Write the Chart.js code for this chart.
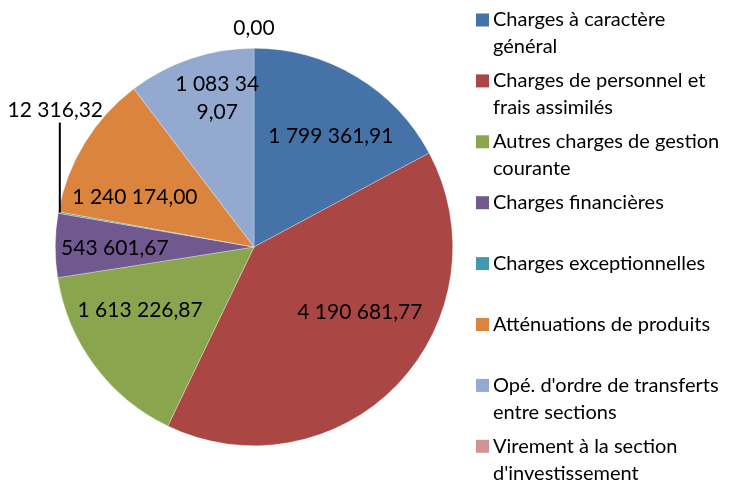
<!DOCTYPE html>
<html>
<head>
<meta charset="utf-8">
<script src="https://cdn.jsdelivr.net/npm/chart.js@4"></script>
<style>
  html, body { margin: 0; padding: 0; background: #fff; }
  #wrap { position: relative; width: 731px; height: 482px; }
</style>
</head>
<body>
<div id="wrap"><canvas id="pie" width="731" height="482"></canvas></div>
<script>
// Chart data
const categories = [
    "Charges à caractère général",
    "Charges de personnel et frais assimilés",
    "Autres charges de gestion courante",
    "Charges financières",
    "Charges exceptionnelles",
    "Atténuations de produits",
    "Opé. d'ordre de transferts entre sections",
    "Virement à la section d'investissement"
];
const amounts = [1799361.91, 4190681.77, 1613226.87, 543601.67, 12316.32, 1240174.00, 1083349.07, 0.00];
const colors = ['#4572A7', '#AA4643', '#89A54E', '#71588F', '#4198AF', '#DB843D', '#93A9CF', '#D19392'];

const LABEL_FONT = '21px Lato';
const LEGEND_FONT = '20px Lato';

// French number format: "1 799 361,91"
function fmt(v) {
    const parts = v.toFixed(2).split('.');
    const intPart = parts[0].replace(/\B(?=(\d{3})+(?!\d))/g, ' ');
    return intPart + ',' + parts[1];
}

// where each value label sits: angle shift (deg) from slice middle, radius as share of the pie radius
const labelPlacement = [
    { dA: 3.8, r: 0.68 },
    { dA: -12.2, r: 0.625 },
    { dA: 7.7, r: 0.655 },
    { dA: -0.8, r: 0.70 },
    { leader: true },
    { dA: -8.7, r: 0.65 },
    { dA: 4.7, r: 0.77, maxWidth: 86 },
    { dA: 0, r: 1.10 }
];

function wrapChars(ctx, text, maxWidth) {
    const lines = [];
    let cur = '';
    for (const ch of text) {
        if (cur && ctx.measureText(cur + ch).width > maxWidth) {
            lines.push(cur);
            cur = ch;
        } else {
            cur += ch;
        }
    }
    if (cur) lines.push(cur);
    return lines;
}

function wrapWords(ctx, text, maxWidth) {
    const words = text.split(' ');
    const lines = [];
    let cur = '';
    words.forEach(w => {
        const test = cur ? cur + ' ' + w : w;
        if (cur && ctx.measureText(test).width > maxWidth) {
            lines.push(cur);
            cur = w;
        } else {
            cur = test;
        }
    });
    if (cur) lines.push(cur);
    return lines;
}

const valueLabels = {
    id: 'valueLabels',
    afterDatasetsDraw(chart) {
        const ctx = chart.ctx;
        const meta = chart.getDatasetMeta(0);
        ctx.save();
        ctx.font = LABEL_FONT;
        ctx.fillStyle = '#000';
        ctx.textAlign = 'center';
        ctx.textBaseline = 'middle';
        meta.data.forEach((arc, i) => {
            const p = labelPlacement[i];
            const mid = (arc.startAngle + arc.endAngle) / 2;
            const R = arc.outerRadius;
            const text = fmt(amounts[i]);
            if (p.leader) {
                // small slice: label outside with a vertical leader line
                const ex = arc.x + Math.cos(mid) * R;
                const ey = arc.y + Math.sin(mid) * R;
                ctx.strokeStyle = '#000';
                ctx.lineWidth = 2;
                ctx.beginPath();
                ctx.moveTo(ex + 1.5, ey);
                ctx.lineTo(ex + 1.5, ey - 90);
                ctx.stroke();
                ctx.fillText(text, ex - 3, ey - 102);
                return;
            }
            const a = mid + p.dA * Math.PI / 180;
            const x = arc.x + Math.cos(a) * R * p.r;
            const y = arc.y + Math.sin(a) * R * p.r;
            const lines = p.maxWidth ? wrapChars(ctx, text, p.maxWidth) : [text];
            const lh = 28;
            lines.forEach((ln, k) => {
                ctx.fillText(ln, x, y + (k - (lines.length - 1) / 2) * lh);
            });
        });
        ctx.restore();
    }
};

// legend drawn on the right, wrapped like the original
const sideLegend = {
    id: 'sideLegend',
    afterDraw(chart) {
        const ctx = chart.ctx;
        const boxX = 476, textX = 493, top = 20, step = 60.9, lh = 27, box = 13;
        ctx.save();
        ctx.font = LEGEND_FONT;
        ctx.textAlign = 'left';
        ctx.textBaseline = 'middle';
        categories.forEach((name, i) => {
            const y0 = top + i * step;
            ctx.fillStyle = colors[i];
            ctx.fillRect(boxX, y0 - box / 2, box, box);
            ctx.fillStyle = '#000';
            wrapWords(ctx, name, 237).forEach((ln, k) => {
                ctx.fillText(ln, textX, y0 + k * lh);
            });
        });
        ctx.restore();
    }
};

new Chart(document.getElementById('pie').getContext('2d'), {
    type: 'pie',
    data: {
        labels: categories,
        datasets: [{
            data: amounts,
            backgroundColor: colors,
            borderColor: 'rgba(255,255,255,0.5)',
            borderWidth: 0.6
        }]
    },
    options: {
        responsive: false,
        animation: false,
        layout: { padding: { left: 55, right: 278, top: 44, bottom: 32 } },
        plugins: {
            legend: { display: false },
            tooltip: { enabled: false }
        }
    },
    plugins: [valueLabels, sideLegend]
});
</script>
</body>
</html>
